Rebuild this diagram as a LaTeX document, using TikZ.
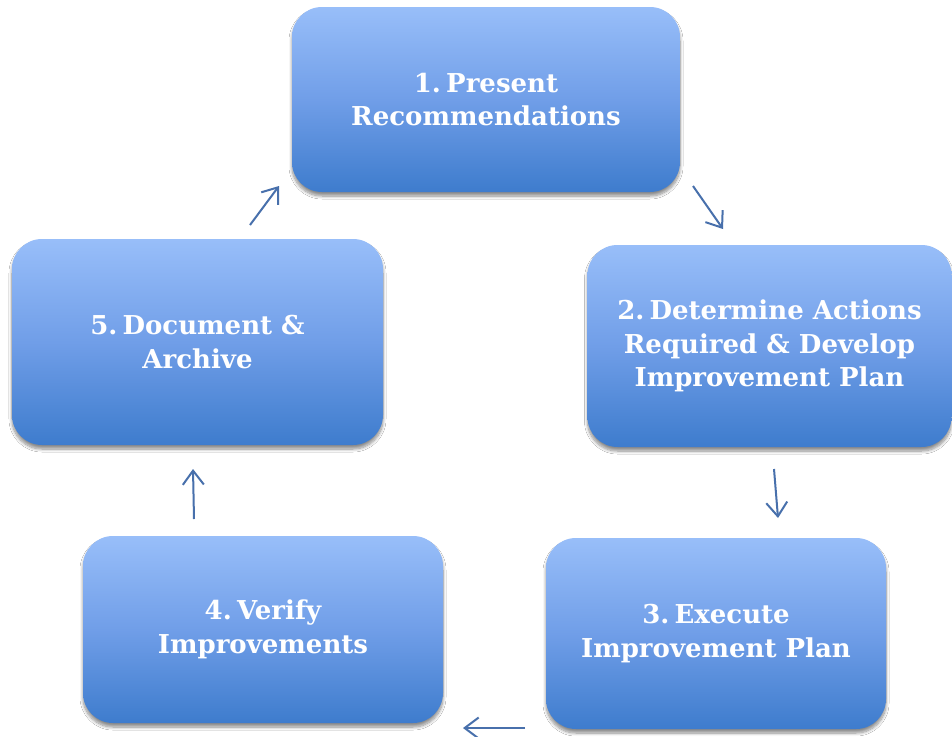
\documentclass[tikz,border=0pt]{standalone}
\usepackage{fontspec}
\setmainfont{DejaVu Serif}
\usetikzlibrary{arrows.meta,shadows.blur}
\definecolor{boxtop}{RGB}{152,190,249}
\definecolor{boxmid}{RGB}{112,158,232}
\definecolor{boxbot}{RGB}{62,124,205}
\definecolor{arrowblue}{RGB}{72,112,172}
\newcommand{\nsp}{\hspace{0.2em}}
\tikzset{
  stepbox/.style={rounded corners=30pt, top color=boxtop, bottom color=boxbot, middle color=boxmid,
    text=white, font=\bfseries\fontsize{26pt}{33.5pt}\selectfont, align=center, inner sep=0pt,
    blur shadow={shadow xshift=0pt, shadow yshift=-4pt, shadow blur radius=3pt, shadow blur steps=8, shadow opacity=45}},
  flow/.style={draw=arrowblue, line width=2pt, -{Straight Barb[length=14pt,width=21pt,line width=2pt]}}
}
\begin{document}
\begin{tikzpicture}[x=1pt,y=-1pt]
\useasboundingbox[fill=white] (0,0) rectangle (952,736);
\node[stepbox, minimum width=388pt, minimum height=185pt] (b1) at (486,99.5) {1.\nsp Present\\Recommendations};
\node[stepbox, minimum width=364pt, minimum height=202pt] (b2) at (769.5,346) {2.\nsp Determine Actions\\Required \& Develop\\Improvement Plan};
\node[stepbox, minimum width=340pt, minimum height=191pt] (b3) at (716,633.5) {3.\nsp Execute\\Improvement Plan};
\node[stepbox, minimum width=360pt, minimum height=187pt] (b4) at (263,629.5) {4.\nsp Verify\\Improvements};
\node[stepbox, minimum width=371pt, minimum height=206pt] (b5) at (197.5,342) {5.\nsp Document \&\\Archive};
\coordinate (a12s) at (693,186);
\coordinate (a12e) at (723,229);
\coordinate (a23s) at (774,469);
\coordinate (a23e) at (778,518);
\coordinate (a34s) at (525,728);
\coordinate (a34e) at (463,728);
\coordinate (a45s) at (194,519);
\coordinate (a45e) at (193,469);
\coordinate (a51s) at (250,225);
\coordinate (a51e) at (279,186);
\draw[flow] (a12s) -- (a12e);
\draw[flow] (a23s) -- (a23e);
\draw[flow] (a34s) -- (a34e);
\draw[flow] (a45s) -- (a45e);
\draw[flow] (a51s) -- (a51e);
\end{tikzpicture}
\end{document}
